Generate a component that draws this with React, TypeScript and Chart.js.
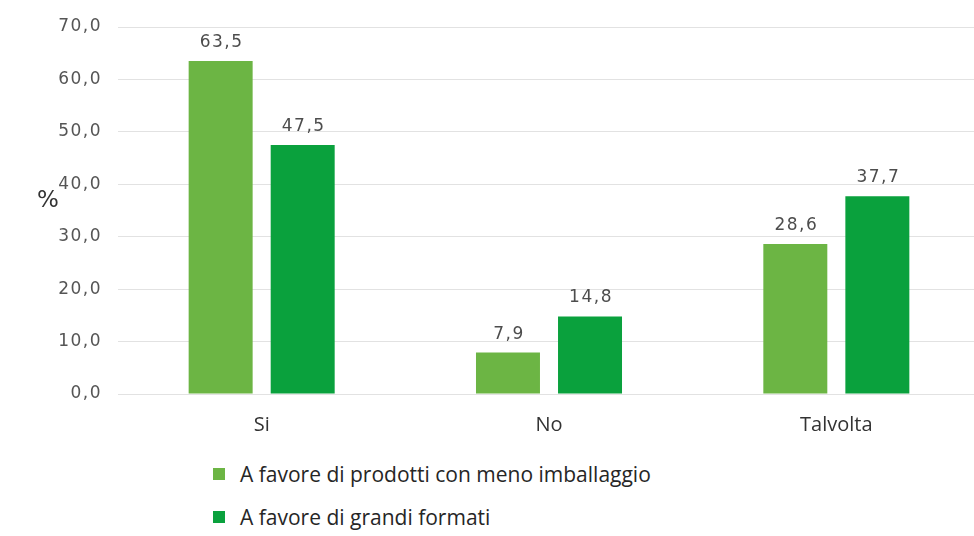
import React, { useEffect, useRef } from "react";
import { Chart, registerables } from "chart.js";

Chart.register(...registerables);

const categories = ["Si", "No", "Talvolta"];
const seriesNames = [
  "A favore di prodotti con meno imballaggio",
  "A favore di grandi formati",
];
const lessPackaging = [63.5, 7.9, 28.6];
const bigFormats = [47.5, 14.8, 37.7];
const colors = ["#6cb544", "#0aa13d"];
const yTicksMax = 70;
const yTicksStep = 10;

const fmt = (v: number) => v.toFixed(1).replace(".", ",");

const labelsPlugin = {
  id: "valueLabels",
  beforeDraw(chart: any) {
    chart.ctx.letterSpacing = "1.5px";
  },
  beforeDatasetsDraw(chart: any) {
    chart.ctx.letterSpacing = "0px";
  },
  afterDatasetsDraw(chart: any) {
    const ctx = chart.ctx;
    ctx.save();
    ctx.letterSpacing = "1.5px";
    ctx.font = "17px 'DejaVu Sans'";
    ctx.fillStyle = "#4d4d4d";
    ctx.textAlign = "center";
    ctx.textBaseline = "alphabetic";
    chart.data.datasets.forEach((ds: any, i: number) => {
      const meta = chart.getDatasetMeta(i);
      meta.data.forEach((bar: any, j: number) => {
        ctx.fillText(fmt(ds.data[j]), bar.x + 1, bar.y - 14);
      });
    });
    ctx.restore();
    ctx.letterSpacing = "0px";
  },
};

export default function App() {
  const ref = useRef<HTMLCanvasElement>(null);
  useEffect(() => {
    const chart = new Chart(ref.current!, {
      type: "bar",
      data: {
        labels: categories,
        datasets: [
          {
            label: seriesNames[0],
            data: lessPackaging,
            backgroundColor: colors[0],
            categoryPercentage: 0.571,
            barPercentage: 0.78,
          },
          {
            label: seriesNames[1],
            data: bigFormats,
            backgroundColor: colors[1],
            categoryPercentage: 0.571,
            barPercentage: 0.78,
          },
        ],
      },
      options: {
        responsive: false,
        animation: false,
        layout: { padding: { top: 27, right: 10, left: 0, bottom: 0 } },
        plugins: {
          legend: { display: false },
          tooltip: { enabled: false },
        },
        scales: {
          x: {
            grid: { display: false, drawTicks: false },
            border: { display: false },
            ticks: {
              z: 1,
              padding: 19,
              color: "#333",
              font: { family: "'Open Sans'", size: 20 },
            },
            afterFit: (s: any) => {
              s.height = 56;
            },
          },
          y: {
            min: 0,
            max: yTicksMax,
            grid: { color: "#e2e2e2", drawTicks: false, lineWidth: 1 },
            border: { display: false },
            ticks: {
              stepSize: yTicksStep,
              padding: 16,
              color: "#555",
              font: { family: "'DejaVu Sans'", size: 17 },
              callback: (v: any) => fmt(Number(v)),
            },
            afterFit: (s: any) => {
              s.width = 118;
            },
          },
        },
      },
      plugins: [labelsPlugin],
    });
    return () => chart.destroy();
  }, []);

  const legendRow = (i: number, cy: number) => (
    <div
      key={i}
      style={{
        position: "absolute",
        left: 213,
        top: cy - 15,
        height: 30,
        display: "flex",
        alignItems: "center",
        whiteSpace: "nowrap",
      }}
    >
      <span
        style={{
          display: "inline-block",
          width: 12,
          height: 12,
          background: colors[i],
          marginRight: 15,
        }}
      />
      <span style={{ fontFamily: "'Open Sans'", fontSize: 21, color: "#262626" }}>
        {seriesNames[i]}
      </span>
    </div>
  );

  return (
    <div
      style={{
        position: "fixed",
        left: 0,
        top: 0,
        width: 974,
        height: 536,
        overflow: "hidden",
        background: "#fff",
      }}
    >
      <canvas ref={ref} width={990} height={450} style={{ display: "block" }} />
      <div
        style={{
          position: "absolute",
          left: 37,
          top: 186,
          fontFamily: "'DejaVu Sans'",
          fontSize: 23,
          color: "#333",
        }}
      >
        %
      </div>
      {legendRow(0, 474)}
      {legendRow(1, 517)}
    </div>
  );
}
